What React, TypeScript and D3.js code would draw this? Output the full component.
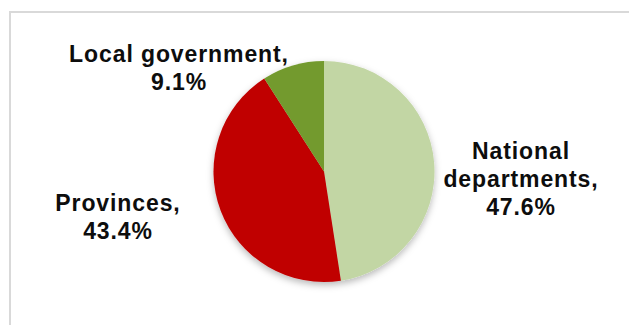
import React from "react";
import * as d3 from "d3";

const categories = ["National departments", "Provinces", "Local government"];
const shares = [47.6, 43.4, 9.1];
const colors = ["#c2d6a4", "#c00000", "#739a2e"];
// label text lines (as displayed)
const labelLines = [
  ["National", "departments,", "47.6%"],
  ["Provinces,", "43.4%"],
  ["Local government,", "9.1%"],
];
// label block centres (x) and first baselines (y), in px
const labelX = [521, 118, 179];
const labelY = [159, 211, 61.5];

const W = 629;
const H = 325;
const cx = 324;
const cy = 171.5;
const R = 110.5;
const lineH = 28;

export default function App() {
  const pie = d3
    .pie<number>()
    .sort(null)
    .value((d) => d)
    .startAngle(0)
    .endAngle(2 * Math.PI);
  const arcs = pie(shares);
  const arc = d3.arc<d3.PieArcDatum<number>>().innerRadius(0).outerRadius(R);

  return (
    <svg
      width={W}
      height={H}
      style={{ position: "absolute", left: 0, top: 0, background: "#fff" }}
    >
      <defs>
        <filter id="sh" x="-20%" y="-20%" width="140%" height="150%">
          <feDropShadow dx="0" dy="3" stdDeviation="3.5" floodColor="#000" floodOpacity="0.28" />
        </filter>
      </defs>
      <rect x={10} y={12} width={W} height={H} fill="#fff" stroke="#d9d9d9" strokeWidth={2} />
      <g transform={`translate(${cx},${cy})`} filter="url(#sh)">
        {arcs.map((a, i) => (
          <path key={categories[i]} d={arc(a) || ""} fill={colors[i]} />
        ))}
      </g>
      {labelLines.map((lines, i) =>
        lines.map((l, j) => (
          <text
            key={categories[i] + j}
            x={labelX[i]}
            y={labelY[i] + j * lineH}
            textAnchor="middle"
            fontFamily="'Liberation Sans', Arial, sans-serif"
            fontWeight={700}
            fontSize={23}
            letterSpacing={0.9}
            fill="#0d0d0d"
          >
            {l}
          </text>
        ))
      )}
    </svg>
  );
}
